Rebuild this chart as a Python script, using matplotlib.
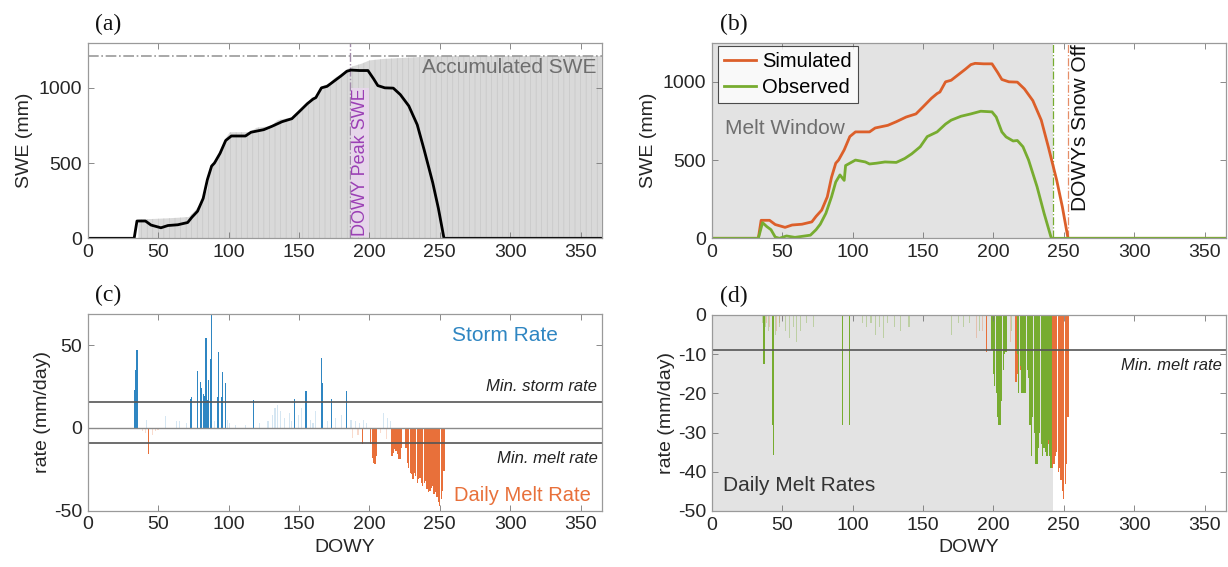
import numpy as np
import matplotlib.pyplot as plt

plt.rcParams['font.family'] = ['Liberation Sans', 'DejaVu Sans']
plt.rcParams['axes.unicode_minus'] = False
plt.rcParams['hatch.linewidth'] = 0.4

# ---- data ----
# simulated SWE (mm) by day of water year
sim_days = [0, 33, 35, 41, 45, 52, 57, 64, 71, 74, 78, 82, 85, 88, 90, 94, 98, 102,
            112, 116, 125, 131, 138, 145, 150, 156, 160, 162, 166, 170, 175, 180, 184,
            187, 193, 199, 203, 206, 211, 217, 222, 228, 234, 239, 245, 249, 253, 365]
sim_swe = [0, 0, 115, 115, 88, 70, 85, 90, 105, 140, 180, 265, 390, 480, 500, 565, 650, 680,
           680, 705, 722, 745, 775, 795, 840, 895, 925, 935, 1000, 1010, 1045, 1080, 1110,
           1118, 1115, 1115, 1060, 1015, 1000, 998, 955, 880, 755, 585, 370, 200, 0, 0]

# observed SWE (mm)
obs_days = [0, 33, 36, 39, 42, 45, 48, 53, 59, 70, 74, 77, 81, 85, 88, 91, 94, 95, 98, 102,
            109, 112, 117, 123, 131, 137, 142, 148, 153, 160, 166, 170, 177, 184, 191,
            199, 202, 206, 209, 214, 217, 221, 225, 231, 236, 241, 242, 365]
obs_swe = [0, 0, 100, 75, 55, 8, 0, 15, 6, 20, 55, 90, 160, 265, 360, 405, 370, 465, 480, 500,
           488, 475, 480, 488, 485, 510, 540, 585, 650, 680, 730, 755, 780, 795, 812,
           808, 775, 680, 648, 622, 625, 585, 500, 330, 160, 5, 0, 0]

# accumulated SWE (mm)
acc_days = [36, 45, 55, 65, 72, 75, 80, 85, 88, 92, 95, 98, 101, 115, 120, 130, 135, 146,
            150, 155, 159, 164, 167, 172, 175, 180, 184, 188, 195, 200, 210, 230, 250, 365]
acc_swe = [125, 128, 132, 137, 142, 172, 225, 325, 495, 525, 605, 665, 705, 705, 735, 745,
           785, 805, 835, 885, 935, 945, 1012, 1032, 1062, 1092, 1122, 1142, 1162, 1182,
           1192, 1202, 1210, 1212]
acc_total = 1212
peak_day = 186
obs_off = 242
sim_off = 253

# storm rates (mm/day)
storm_days = [33, 34, 35, 42, 55, 63, 65, 70, 73, 74, 78, 80, 81, 82, 83, 84, 85, 86, 87, 88,
              90, 92, 93, 95, 96, 98, 99, 101, 105, 112, 118, 122, 128, 131, 133, 135, 137,
              140, 143, 145, 147, 150, 152, 155, 158, 160, 162, 166, 167, 170, 173, 176,
              180, 184, 187, 190, 193, 196, 198, 210, 213, 215]
storm_rate = [23, 35, 47, 5, 7, 4, 4, 3, 17.4, 18.7, 34.5, 27.8, 24, 20.4, 19, 54, 17, 29,
              41.5, 68, 4, 18.7, 46, 18.5, 34, 27, 5, 3, 2, 2, 16.8, 3, 4, 8, 12, 14, 10,
              6, 9, 4, 17.4, 8, 12, 22.4, 5, 3, 10, 42, 27, 4, 17.5, 6, 8, 22, 5, 4, 3,
              5, 3, 9, 6, 4]
storm_min = 15.7

# simulated daily melt rates (mm/day)
sim_melt_days = [39, 41, 43, 46, 48, 50, 188, 192, 195, 201, 202, 203, 204, 205, 208, 212,
                 216, 217, 218, 219, 220, 221, 222, 223, 226, 227, 228, 229, 230, 231, 232,
                 233, 234, 235, 236, 237, 238, 239, 240, 241, 242, 243, 244, 245, 246, 247,
                 248, 249, 250, 251, 252, 253]
sim_melt = [-2, -3, -16, -4, -2, -1, -6, -4, -9.5, -10, -18, -21, -22, -17, -3, -7,
            -17, -15, -13, -14, -16, -19, -19, -12, -12, -21, -24, -27, -28, -31, -27,
            -29, -33, -31, -30, -33, -35, -33, -32, -37, -39, -38, -36, -35, -40, -39,
            -42, -45, -47, -43, -38, -26]

# observed daily melt rates (mm/day)
obs_melt_days = [36, 37, 38, 40, 43, 44, 45, 48, 52, 55, 58, 60, 63, 67, 72, 93, 98, 107,
                 110, 113, 116, 119, 122, 125, 130, 134, 140, 170, 175, 179, 183, 190, 199,
                 200, 201, 202, 203, 204, 205, 206, 207, 208, 209, 213, 217, 218, 219, 220,
                 221, 222, 223, 224, 225, 226, 227, 228, 229, 230, 231, 232, 233, 234, 235,
                 236, 237, 238, 239, 240, 241]
obs_melt = [-2, -12.6, -3, -4, -28, -35.7, -5, -3, -4, -6, -3, -7, -4, -2, -3, -28, -28, -2,
            -3, -2, -5, -3, -6, -2, -3, -4, -3, -5, -2, -3, -2, -4, -9,
            -15, -18, -20, -26, -28, -28, -22, -14, -10, -9.5, -4, -10, -20, -13, -20,
            -20, -20, -20, -14, -16, -28, -36, -26, -30, -38, -38, -34, -30, -33, -36,
            -34, -35, -36, -32, -36, -39]
melt_min = -9

# ---- styling ----
c_sim = '#dc5f2a'
c_obs = '#77ac30'
c_storm = '#2f86c2'
c_melt = '#e8703a'
c_bg = '#e3e3e3'
txt = '#262626'


def style(ax, xlabel=False):
    ax.set_xlim(0, 365)
    ax.set_xticks(range(0, 351, 50))
    ax.tick_params(direction='in', top=True, right=True, length=4, width=0.6,
                   color='#777777', labelsize=14, labelcolor=txt, pad=4)
    for s in ax.spines.values():
        s.set_color('#9a9a9a')
        s.set_linewidth(0.9)
    if xlabel:
        ax.set_xlabel('DOWY', fontsize=14, color=txt, labelpad=4)


def panel_label(ax, lab):
    ax.text(0.015, 1.04, lab, transform=ax.transAxes, fontsize=17,
            family='Liberation Serif', color='#111111', va='bottom')


fig = plt.figure(figsize=(12.28, 5.67), dpi=100)
ax_a = fig.add_axes([0.0714, 0.5797, 0.4186, 0.3450])
ax_b = fig.add_axes([0.5797, 0.5797, 0.4184, 0.3450])
ax_c = fig.add_axes([0.0714, 0.0993, 0.4186, 0.3464])
ax_d = fig.add_axes([0.5797, 0.0988, 0.4184, 0.3457])

# (a) accumulated vs SWE
ax_a.fill_between(acc_days, acc_swe, 0, facecolor='#d9d9d9',
                  edgecolor='#c2c2c2', hatch='|||', linewidth=0)
ax_a.axhline(acc_total, color='#999999', lw=1.2, ls='-.')
ax_a.axvline(peak_day, color='#a08aa8', lw=1.0, ls='-.')
ax_a.plot(sim_days, sim_swe, color='black', lw=2)
ax_a.text(361, 1135, 'Accumulated SWE', ha='right', va='center', fontsize=15,
          color='#6e6e6e')
ax_a.text(peak_day + 1.5, 15, 'DOWY Peak SWE', rotation=90, ha='left', va='bottom',
          fontsize=13, color='#9b3fb5',
          bbox=dict(facecolor='#e6d6ea', edgecolor='none', pad=0.5))
ax_a.set_ylim(0, 1300)
ax_a.set_yticks([0, 500, 1000])
ax_a.set_ylabel('SWE (mm)', fontsize=14, color=txt, labelpad=4)
style(ax_a)
panel_label(ax_a, '(a)')

# (b) simulated vs observed
ax_b.axvspan(0, obs_off, color=c_bg, lw=0)
ax_b.axvline(obs_off, color=c_obs, lw=0.9, ls='-.')
ax_b.axvline(sim_off, color=c_sim, lw=0.9, ls='-.', alpha=0.7)
ax_b.plot(sim_days, sim_swe, color=c_sim, lw=2, label='Simulated')
ax_b.plot(obs_days, obs_swe, color=c_obs, lw=2, label='Observed')
ax_b.text(9, 700, 'Melt Window', fontsize=15, color='#6e6e6e', va='center')
ax_b.text(sim_off + 2, 1240, 'DOWYs Snow Off', rotation=90, ha='left', va='top',
          fontsize=15, color='#111111')
leg = ax_b.legend(loc='upper left', fontsize=14.5, frameon=True, fancybox=False,
                  handlelength=1.6, borderpad=0.3, labelspacing=0.35,
                  bbox_to_anchor=(0.012, 0.985), handletextpad=0.3,
                  borderaxespad=0.0)
leg.get_frame().set_edgecolor('#222222')
leg.get_frame().set_linewidth(0.8)
ax_b.set_ylim(0, 1250)
ax_b.set_yticks([0, 500, 1000])
ax_b.set_ylabel('SWE (mm)', fontsize=14, color=txt, labelpad=4)
style(ax_b)
panel_label(ax_b, '(b)')

# (c) storm and melt rates
storm_rate_a = np.array(storm_rate)
strong = storm_rate_a >= storm_min
ax_c.bar(np.array(storm_days)[~strong], storm_rate_a[~strong], width=0.8,
         color=c_storm, alpha=0.2, lw=0)
ax_c.bar(np.array(storm_days)[strong], storm_rate_a[strong], width=0.8,
         color=c_storm, lw=0)
sim_melt_a = np.array(sim_melt)
deep = sim_melt_a <= melt_min
ax_c.bar(np.array(sim_melt_days)[~deep], sim_melt_a[~deep], width=0.9,
         color=c_melt, alpha=0.25, lw=0)
ax_c.bar(np.array(sim_melt_days)[deep], sim_melt_a[deep], width=0.9,
         color=c_melt, lw=0)
ax_c.axhline(storm_min, color='#555555', lw=1.2)
ax_c.axhline(0, color='#8a8a8a', lw=1.0)
ax_c.axhline(melt_min, color='#555555', lw=1.2)
ax_c.text(296, 56, 'Storm Rate', fontsize=15, color=c_storm, ha='center', va='center')
ax_c.text(362, 20.5, 'Min. storm rate', fontsize=12, style='italic', color='#222222',
          ha='right', va='bottom')
ax_c.text(362, -14, 'Min. melt rate', fontsize=12, style='italic', color='#222222',
          ha='right', va='top')
ax_c.text(357, -41, 'Daily Melt Rate', fontsize=14.5, color=c_melt, ha='right', va='center')
ax_c.set_ylim(-50, 68.6)
ax_c.set_yticks([-50, 0, 50])
ax_c.set_ylabel('rate (mm/day)', fontsize=14, color=txt, labelpad=2)
style(ax_c, xlabel=True)
panel_label(ax_c, '(c)')

# (d) daily melt rates, observed over simulated
ax_d.axvspan(0, obs_off, color=c_bg, lw=0)
ax_d.bar(np.array(sim_melt_days)[~deep], sim_melt_a[~deep], width=0.9,
         color=c_melt, alpha=0.3, lw=0)
ax_d.bar(np.array(sim_melt_days)[deep], sim_melt_a[deep], width=0.9,
         color=c_melt, lw=0)
obs_melt_a = np.array(obs_melt)
odeep = obs_melt_a <= melt_min
ax_d.bar(np.array(obs_melt_days)[~odeep], obs_melt_a[~odeep], width=0.8,
         color=c_obs, alpha=0.35, lw=0)
ax_d.bar(np.array(obs_melt_days)[odeep], obs_melt_a[odeep], width=0.9,
         color=c_obs, lw=0)
ax_d.axhline(melt_min, color='#555555', lw=1.2)
ax_d.text(362, -11, 'Min. melt rate', fontsize=12, style='italic', color='#222222',
          ha='right', va='top')
ax_d.text(8, -43.5, 'Daily Melt Rates', fontsize=15, color='#333333', va='center')
ax_d.set_ylim(-50, 0)
ax_d.set_yticks([-50, -40, -30, -20, -10, 0])
ax_d.set_ylabel('rate (mm/day)', fontsize=14, color=txt, labelpad=2)
style(ax_d, xlabel=True)
panel_label(ax_d, '(d)')

fig.savefig('out.png', dpi=100)
